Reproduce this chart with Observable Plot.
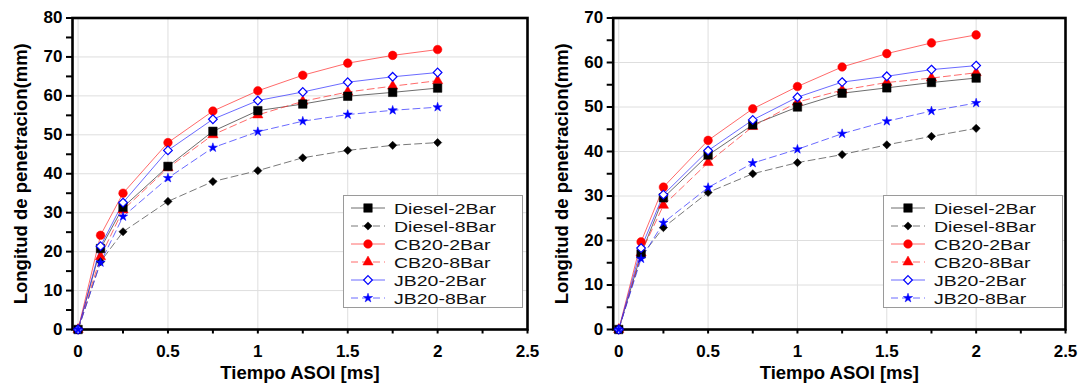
<!DOCTYPE html>
<html><head><meta charset="utf-8">
<script src="https://cdn.jsdelivr.net/npm/d3@7"></script>
<script src="https://cdn.jsdelivr.net/npm/@observablehq/plot@0.6"></script>
<style>
body{margin:0;background:#fff;}
#wrap{position:relative;width:1085px;height:384px;overflow:hidden;font-family:"Liberation Sans",Arial,sans-serif;background:#fff;}
.panel{position:absolute;top:0;}
.legend{position:absolute;top:195px;width:180px;height:113px;box-sizing:border-box;border:1.5px solid #9a9a9a;background:#fff;padding-top:3px;}
.row{height:18px;display:flex;align-items:center;}
.row svg{flex:none;margin-left:7px;}
.row span{display:inline-block;font-size:15px;color:#111;transform:scaleX(1.3);transform-origin:left center;margin-left:9px;white-space:nowrap;}
</style></head><body><div id="wrap"></div>
<script>
// ---- data ----
const times = [0, 0.125, 0.25, 0.5, 0.75, 1, 1.25, 1.5, 1.75, 2];
const seriesNames = ["Diesel-2Bar", "Diesel-8Bar", "CB20-2Bar", "CB20-8Bar", "JB20-2Bar", "JB20-8Bar"];
// left panel
const leftDiesel2 = [0, 20.8, 31.4, 41.9, 50.9, 56.2, 57.9, 59.9, 60.9, 62.0];
const leftDiesel8 = [0, 17.4, 25.1, 32.9, 38.0, 40.8, 44.1, 46.0, 47.3, 48.0];
const leftCB2 = [0, 24.2, 35.0, 48.0, 56.1, 61.3, 65.3, 68.4, 70.4, 71.9];
const leftCB8 = [0, 18.7, 30.7, 41.5, 50.0, 55.1, 58.6, 61.0, 62.5, 63.9];
const leftJB2 = [0, 21.4, 32.6, 46.0, 54.0, 58.8, 61.0, 63.5, 64.9, 66.0];
const leftJB8 = [0, 17.2, 29.0, 38.9, 46.7, 50.8, 53.5, 55.2, 56.3, 57.1];
// right panel
const rightDiesel2 = [0, 17.0, 29.6, 39.2, 46.0, 50.0, 53.1, 54.3, 55.5, 56.5];
const rightDiesel8 = [0, 16.4, 22.9, 30.8, 35.0, 37.5, 39.3, 41.5, 43.4, 45.2];
const rightCB2 = [0, 19.7, 32.0, 42.5, 49.6, 54.6, 59.0, 62.0, 64.4, 66.2];
const rightCB8 = [0, 17.2, 27.9, 37.5, 45.6, 51.1, 53.8, 55.5, 56.5, 57.7];
const rightJB2 = [0, 18.3, 30.3, 40.2, 47.1, 52.2, 55.6, 56.9, 58.4, 59.3];
const rightJB8 = [0, 15.9, 24.0, 31.9, 37.4, 40.5, 44.0, 46.8, 49.1, 50.9];
// ticks and labels
const xTickLabels = [0, 0.5, 1, 1.5, 2, 2.5];
const xMinorTicks = [0, 0.25, 0.5, 0.75, 1, 1.25, 1.5, 1.75, 2, 2.25, 2.5];
const leftYTicks = [0, 10, 20, 30, 40, 50, 60, 70, 80];
const rightYTicks = [0, 10, 20, 30, 40, 50, 60, 70];
const xTitle = "Tiempo ASOI [ms]";
const yTitle = "Longitud de penetracion(mm)";

// ---- styles ----
const styles = {
  "Diesel-2Bar": {color: "#000", line: "#333", dash: null, symbol: "square", r: 4.8, fill: "#000"},
  "Diesel-8Bar": {color: "#000", line: "#444", dash: "7,4", symbol: "diamond2", r: 3.7, fill: "#000"},
  "CB20-2Bar": {color: "#f00", line: "#ff3030", dash: null, symbol: "circle", r: 4.3, fill: "#f00"},
  "CB20-8Bar": {color: "#f00", line: "#ff3030", dash: "7,4", symbol: "triangle", r: 3.8, fill: "#f00"},
  "JB20-2Bar": {color: "#00f", line: "#3030ff", dash: null, symbol: "diamond2", r: 3.9, fill: "#fff"},
  "JB20-8Bar": {color: "#00f", line: "#3030ff", dash: "7,4", symbol: "star", r: 2.9, fill: "#00f"}
};
const drawOrder = ["CB20-2Bar", "CB20-8Bar", "Diesel-8Bar", "Diesel-2Bar", "JB20-2Bar", "JB20-8Bar"];

function makePanel({width, marginLeft, marginRight, yTicks, series}) {
  const rows = [];
  seriesNames.forEach((name, i) => series[i].forEach((v, j) => rows.push({series: name, t: times[j], v})));
  const yMax = yTicks[yTicks.length - 1];
  const yMinor = d3.range(0, yMax + 0.1, 5);
  const lines = seriesNames.map(name => {
    const s = styles[name];
    return Plot.line(rows.filter(d => d.series === name), {
      x: "t", y: "v", stroke: s.line, strokeWidth: 0.9, strokeOpacity: 0.8,
      strokeDasharray: s.dash || undefined
    });
  });
  const dots = drawOrder.map(name => {
    const s = styles[name];
    return Plot.dot(rows.filter(d => d.series === name), {
      x: "t", y: "v", symbol: s.symbol, r: s.r, fill: s.fill,
      stroke: s.color, strokeWidth: s.fill === "#fff" ? 1.2 : 0.5
    });
  });
  return Plot.plot({
    width, height: 384,
    marginLeft, marginRight, marginTop: 17.5, marginBottom: 55,
    x: {domain: [-0.031, 2.5], label: null},
    y: {domain: [0, yMax], label: null},
    style: {fontFamily: "'Liberation Sans', Arial, sans-serif", fontSize: "17px", fontWeight: "bold", color: "#000", background: "transparent", overflow: "visible"},
    marks: [
      Plot.gridX(xTickLabels, {stroke: "#dedede", strokeOpacity: 1, strokeWidth: 1}),
      Plot.gridY(yTicks, {stroke: "#dedede", strokeOpacity: 1, strokeWidth: 1}),
      ...lines,
      Plot.frame({stroke: "#000", strokeWidth: 2.6}),
      Plot.axisX(xMinorTicks, {tickSize: 4.5, strokeWidth: 2, tickFormat: () => "", label: null}),
      Plot.axisX(xTickLabels, {tickSize: 0, tickPadding: 15, fontSize: 17, fontWeight: "bold", label: null, tickFormat: d => String(d)}),
      Plot.axisY(yMinor, {tickSize: 6, strokeWidth: 2, tickFormat: () => "", label: null}),
      Plot.axisY(yTicks, {tickSize: 0, tickPadding: 10, fontSize: 17, fontWeight: "bold", label: null, tickFormat: d => String(d)}),
      ...dots,
      Plot.text([xTitle], {frameAnchor: "bottom", dy: 49, textAnchor: "middle", lineAnchor: "bottom", fontSize: 18.5, fontWeight: "bold", fill: "#000"}),
      Plot.text([yTitle], {frameAnchor: "left", dx: -45.5, rotate: -90, textAnchor: "middle", lineAnchor: "bottom", fontSize: 18.5, fontWeight: "bold", fill: "#000"})
    ]
  });
}

function makeLegend(left) {
  const box = document.createElement("div");
  box.className = "legend";
  box.style.left = left + "px";
  const symMap = {square: d3.symbolSquare, diamond2: d3.symbolDiamond2, circle: d3.symbolCircle, triangle: d3.symbolTriangle, star: d3.symbolStar};
  seriesNames.forEach(name => {
    const s = styles[name];
    const row = document.createElement("div");
    row.className = "row";
    const svg = d3.create("svg").attr("width", 34).attr("height", 18);
    svg.append("line").attr("x1", 0).attr("x2", 34).attr("y1", 9).attr("y2", 9)
      .attr("stroke", s.line).attr("stroke-width", 0.9).attr("stroke-opacity", 0.8)
      .attr("stroke-dasharray", s.dash || null);
    svg.append("path").attr("transform", "translate(17,9)")
      .attr("d", d3.symbol(symMap[s.symbol], Math.PI * s.r * s.r)())
      .attr("fill", s.fill).attr("stroke", s.color)
      .attr("stroke-width", s.fill === "#fff" ? 1.2 : 0.5);
    row.appendChild(svg.node());
    const span = document.createElement("span");
    span.textContent = name;
    row.appendChild(span);
    box.appendChild(row);
  });
  return box;
}

const wrap = document.getElementById("wrap");
const p1 = makePanel({width: 542, marginLeft: 72, marginRight: 15, yTicks: leftYTicks,
  series: [leftDiesel2, leftDiesel8, leftCB2, leftCB8, leftJB2, leftJB8]});
p1.classList.add("panel"); p1.style.left = "0px";
const p2 = makePanel({width: 543, marginLeft: 70.7, marginRight: 20, yTicks: rightYTicks,
  series: [rightDiesel2, rightDiesel8, rightCB2, rightCB8, rightJB2, rightJB8]});
p2.classList.add("panel"); p2.style.left = "542px";
wrap.appendChild(p1);
wrap.appendChild(p2);
wrap.appendChild(makeLegend(343));
wrap.appendChild(makeLegend(883));
</script></body></html>
